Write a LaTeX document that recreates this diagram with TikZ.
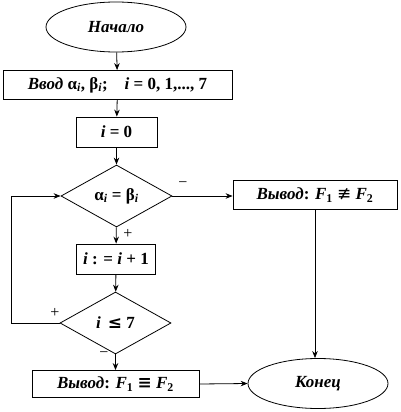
\documentclass[tikz,border=0pt]{standalone}
\usepackage{fontspec}
\setmainfont{Liberation Serif}
\newfontfamily\symf{DejaVu Sans}
\usetikzlibrary{shapes.geometric,arrows.meta}
\newcommand\ii{\textit{i}}
\newcommand\sbi{\textsubscript{\textit{i}}}
\begin{document}
\begin{tikzpicture}[x=1pt,y=-1pt,
  every node/.style={font=\fontsize{17}{19}\selectfont\bfseries},
  box/.style={draw,rectangle,inner sep=0pt,line width=0.8pt},
  oval/.style={draw,ellipse,inner sep=0pt,minimum width=140pt,minimum height=50pt,line width=0.8pt},
  dia/.style={draw,diamond,inner sep=0pt,minimum width=111pt,minimum height=62pt,line width=0.8pt},
  arr/.style={-{Stealth[length=7pt,width=5.5pt]},line width=0.8pt},
  ln/.style={line width=0.8pt},
  lbl/.style={font=\fontsize{16}{18}\selectfont}]
\useasboundingbox (0,0) rectangle (400,412);
\node[oval] (start) at (116,27) {\textit{Начало}};
\node[box,minimum width=229pt,minimum height=29pt] (in) at (117.5,85) {\textit{Ввод} α\sbi, β\sbi;\quad \ii{} = 0, 1,..., 7};
\node[box,minimum width=81pt,minimum height=30pt] (i0) at (116.5,132) {\ii{} = 0};
\node[dia] (d1) at (116.5,196) {α\sbi{} = β\sbi};
\node[box,minimum width=164pt,minimum height=29pt] (out2) at (315,195) {\textit{Вывод}: \textit{F}\textsubscript{1} {\symf\mdseries ≢} \textit{F}\textsubscript{2}};
\node[box,minimum width=79pt,minimum height=30pt] (inc) at (116,259) {\ii{} : = \ii{} + 1};
\node[dia] (d2) at (115.5,323) {\ii{}\, {\symf ≤} 7};
\node[box,minimum width=167pt,minimum height=27pt] (out1) at (115.5,384) {\textit{Вывод}: \textit{F}\textsubscript{1} {\symf ≡} \textit{F}\textsubscript{2}};
\node[oval] (end) at (318,383.5) {\textit{Конец}};
\coordinate (L) at (11,0);
\draw[arr] (start) -- (in);
\draw[arr] (in) -- (i0);
\draw[arr] (i0) -- (d1);
\draw[arr] (d1) -- (inc);
\draw[arr] (inc) -- (d2);
\draw[arr] (d2) -- (out1);
\draw[arr] (d1.east) -- (out2.west |- d1.east);
\draw[arr] (out2.south) -- (out2.south |- end.north);
\draw[arr] (out1.east) -- (end.west);
\draw[arr] (d2.west) -- (d2.west -| L) |- (d1.west);
\node[lbl] (m1) at (183,185) {−};
\node[lbl] (p1) at (128,234) {+};
\node[lbl] (p2) at (55,313) {+};
\node[lbl] (m2) at (104,355) {−};
\end{tikzpicture}
\end{document}
